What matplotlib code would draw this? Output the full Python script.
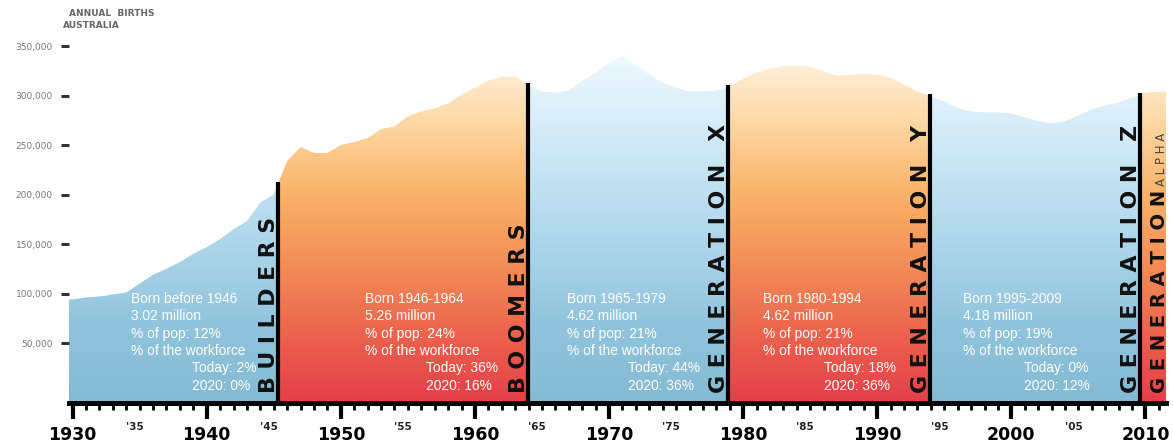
import numpy as np
import matplotlib
matplotlib.use("Agg")
import matplotlib.pyplot as plt
from matplotlib.colors import LinearSegmentedColormap
from matplotlib.ticker import MultipleLocator, FuncFormatter
from matplotlib.transforms import ScaledTranslation

# births per year, thousands
years = list(range(1930, 2012))
births_k = [
    94, 96, 97, 99, 101, 110, 119, 125, 132, 140,
    147, 155, 165, 173, 192, 200, 234, 248, 242, 242,
    250, 253, 257, 266, 269, 279, 284, 287, 292, 301,
    308, 315, 319, 319, 310, 304, 303, 305, 315, 323,
    333, 340, 331, 321, 313, 308, 304, 304, 305, 309,
    317, 323, 327, 330, 330, 329, 324, 320, 321, 322,
    321, 318, 311, 304, 299, 294, 287, 284, 283, 283,
    282, 278, 274, 272, 274, 280, 286, 290, 293, 298,
    303, 304,
]

gen_names = ["BUILDERS", "BOOMERS", "GENERATION X", "GENERATION Y", "GENERATION Z"]
gen_bounds = [1945.3, 1963.95, 1978.9, 1993.9, 2009.6]
gen_born = ["Born before 1946", "Born 1946-1964", "Born 1965-1979",
            "Born 1980-1994", "Born 1995-2009"]
gen_millions = ["3.02", "5.26", "4.62", "4.62", "4.18"]
gen_pop = [12, 24, 21, 21, 19]
work_today = [2, 36, 44, 18, 0]
work_2020 = [0, 16, 36, 36, 12]
text_x = [1934.35, 1951.8, 1966.86, 1981.47, 1996.38]

y_ticks = [50, 100, 150, 200, 250, 300, 350]

x_min, x_max = 1929.73, 2011.53
y_min, y_max = -10.6, 396.5

# vertical gradients, keyed on births value
blue_stops = [(-10.6, "#84bad3"), (73, "#92c5dd"), (144, "#abd4e9"),
              (245, "#cde8f6"), (346, "#f0f9ff"), (396.5, "#f6fbff")]
orange_stops = [(-10.6, "#e4404a"), (43, "#ea5a4c"), (93, "#ef7852"),
                (144, "#f5955a"), (204, "#f9b46a"), (275, "#fdd9a6"),
                (341, "#fff2e0"), (396.5, "#fff8ee")]


def make_cmap(name, stops):
    span = y_max - y_min
    return LinearSegmentedColormap.from_list(
        name, [((v - y_min) / span, c) for v, c in stops])


blue_cmap = make_cmap("gen_blue", blue_stops)
orange_cmap = make_cmap("gen_orange", orange_stops)

fig = plt.figure(figsize=(11.73, 4.43), dpi=100)
ax = fig.add_axes([69 / 1173, 40 / 443, 1097 / 1173, 403 / 443])

# gradient filled areas, one per generation
edges = [x_min] + gen_bounds + [x_max]
grad = np.linspace(y_min, y_max, 256).reshape(-1, 1)
for i in range(len(edges) - 1):
    a, b = edges[i], edges[i + 1]
    xs = [a] + [yr for yr in years if a < yr < b] + [b]
    ys = np.interp(xs, years, births_k)
    poly = ax.fill_between(xs, ys, y_min, facecolor="none", edgecolor="none")
    cmap = blue_cmap if i % 2 == 0 else orange_cmap
    im = ax.imshow(grad, extent=(a, b, y_min, y_max), origin="lower",
                   aspect="auto", cmap=cmap, vmin=y_min, vmax=y_max,
                   interpolation="bilinear", zorder=1)
    im.set_clip_path(poly.get_paths()[0], transform=ax.transData)

# dividers and generation names
label_shift = ScaledTranslation(-3 / 100, 0, fig.dpi_scale_trans)
for name, b in zip(gen_names, gen_bounds):
    top = np.interp(b, years, births_k) + 2
    ax.plot([b, b], [y_min, top], color="black", lw=3,
            solid_capstyle="butt", zorder=3)
    ax.text(b, -1, " ".join(name), rotation=90, rotation_mode="anchor",
            ha="left", va="baseline", fontsize=15.8, fontweight="bold",
            color="#111111", transform=ax.transData + label_shift, zorder=4)

alpha_shift = ScaledTranslation(-1 / 100, 0, fig.dpi_scale_trans)
ax.text(x_max, -1, " ".join("GENERATION"), rotation=90, rotation_mode="anchor",
        ha="left", va="baseline", fontsize=14, fontweight="bold",
        color="#111111", transform=ax.transData + alpha_shift, zorder=4)
ax.text(x_max, 209, " ".join("ALPHA"), rotation=90, rotation_mode="anchor",
        ha="left", va="baseline", fontsize=8.5,
        color="#444444", transform=ax.transData + alpha_shift, zorder=4)

# text blocks
line_y0, line_step = 94.4, 17.5
indent = 4.55
for i in range(len(gen_names)):
    block = [gen_born[i], f"{gen_millions[i]} million",
             f"% of pop: {gen_pop[i]}%", "% of the workforce"]
    for j, s in enumerate(block):
        ax.text(text_x[i], line_y0 - j * line_step, s, color="white",
                fontsize=9.9, family="Liberation Sans", va="center",
                ha="left", zorder=4)
    for j, s in enumerate([f"Today: {work_today[i]}%", f"2020: {work_2020[i]}%"]):
        ax.text(text_x[i] + indent, line_y0 - (4 + j) * line_step, s,
                color="white", fontsize=9.9, family="Liberation Sans",
                va="center", ha="left", zorder=4)

ax.set_xlim(x_min, x_max)
ax.set_ylim(y_min, y_max)

# x axis ruler
ax.xaxis.set_major_locator(MultipleLocator(10))
ax.xaxis.set_minor_locator(MultipleLocator(1))
ax.xaxis.set_minor_formatter(FuncFormatter(
    lambda v, _: f"'{int(round(v)) % 100:02d}" if int(round(v)) % 10 == 5 else ""))
ax.tick_params(axis="x", which="major", direction="out", length=11.5, width=3,
               color="black", pad=5, labelsize=12.5)
ax.tick_params(axis="x", which="minor", direction="out", length=5, width=2,
               color="black", pad=8.5, labelsize=7.5)
for lbl in ax.get_xticklabels():
    lbl.set_fontweight("bold")
minor_shift = ScaledTranslation(-5 / 100, 0, fig.dpi_scale_trans)
for lbl in ax.xaxis.get_minorticklabels():
    lbl.set_fontweight("bold")
    lbl.set_color("#222222")
    lbl.set_transform(lbl.get_transform() + minor_shift)

# y axis
ax.set_yticks(y_ticks)
ax.yaxis.set_major_formatter(FuncFormatter(lambda v, _: f"{int(v * 1000):,}"))
ax.tick_params(axis="y", direction="out", length=5.8, width=2.2,
               color="#333333", pad=5.8, labelsize=6.5, labelcolor="#777777")

for side in ["top", "right", "left"]:
    ax.spines[side].set_visible(False)
ax.spines["bottom"].set_linewidth(3.6)
ax.spines["bottom"].set_color("black")
ax.spines["bottom"].set_zorder(5)

fig.text(69 / 1173, 1 - 13 / 443, "ANNUAL  BIRTHS", fontsize=6.5,
         color="#666666", fontweight="bold", va="center")
fig.text(63 / 1173, 1 - 26 / 443, "AUSTRALIA", fontsize=6.5,
         color="#666666", fontweight="bold", va="center")

fig.savefig("out.png", dpi=100)
